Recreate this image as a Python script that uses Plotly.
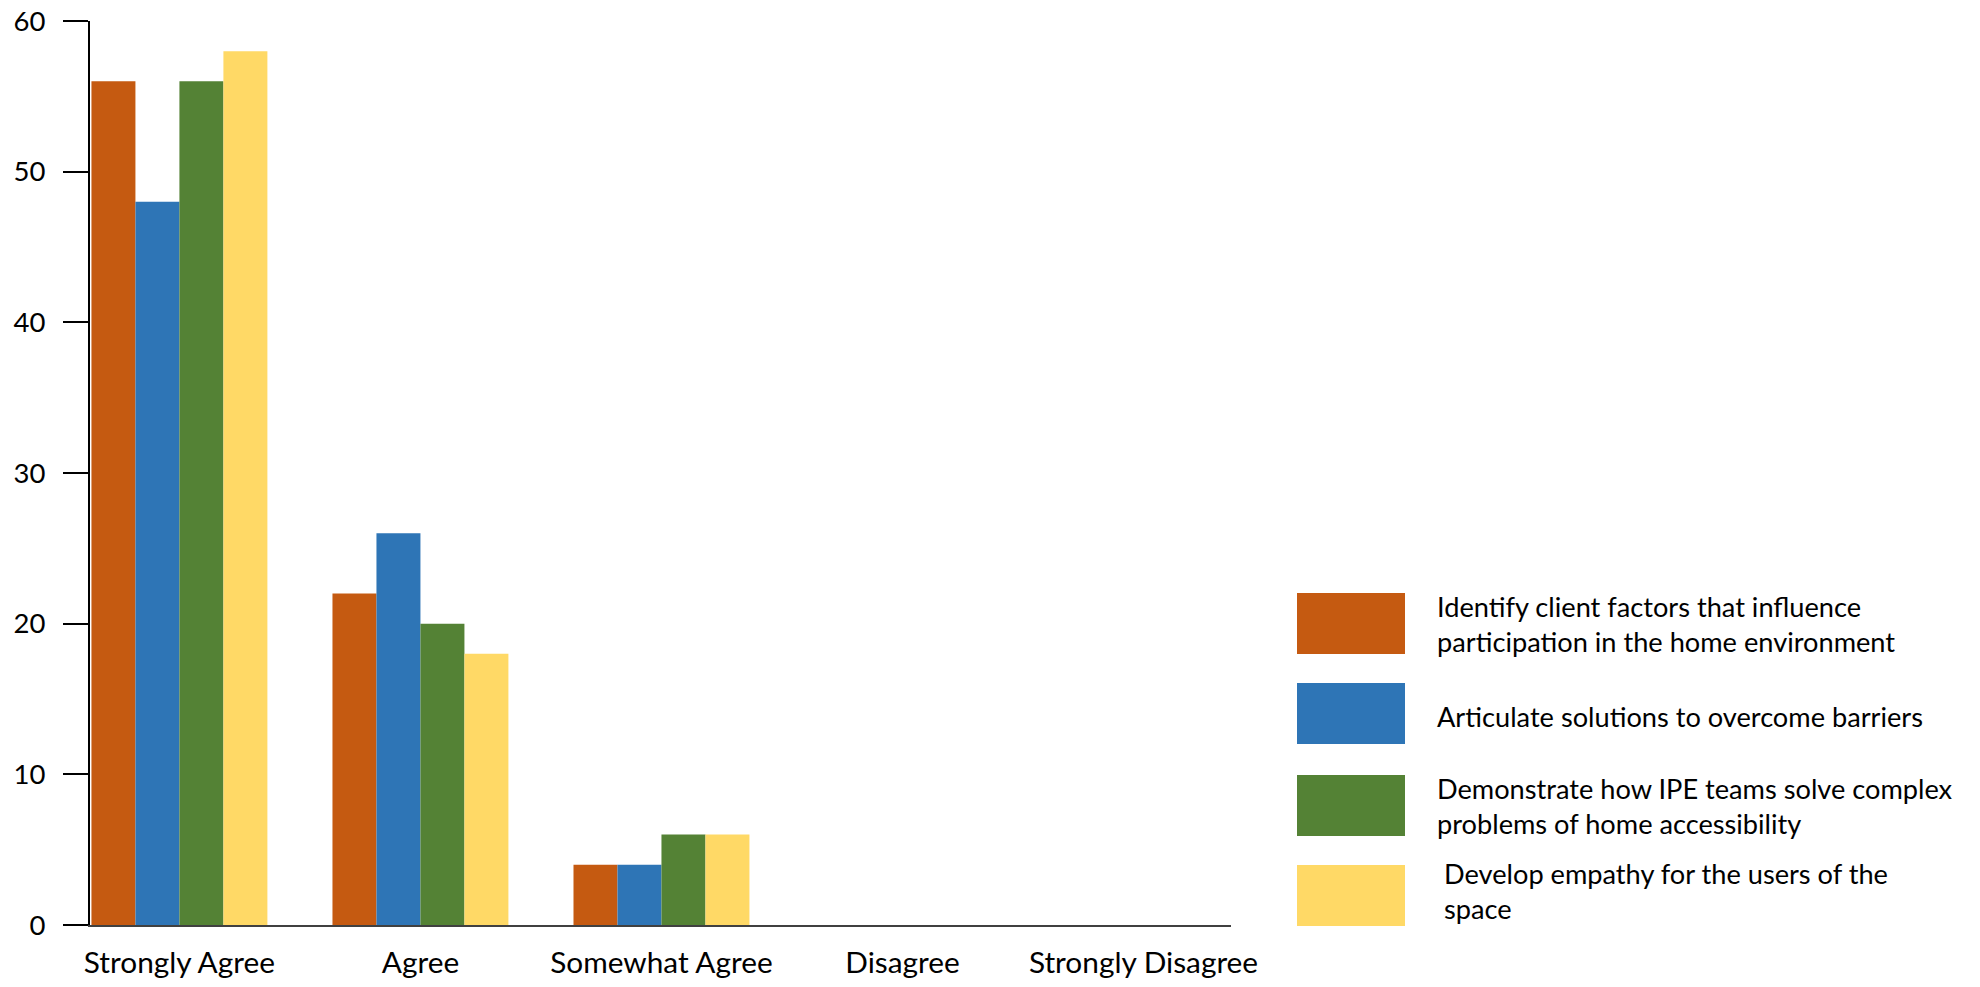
import textwrap
import plotly.graph_objects as go

categories = ["Strongly Agree", "Agree", "Somewhat Agree", "Disagree", "Strongly Disagree"]
series_names = [
    "Identify client factors that influence participation in the home environment",
    "Articulate solutions to overcome barriers",
    "Demonstrate how IPE teams solve complex problems of home accessibility",
    "Develop empathy for the users of the space",
]
identify_vals = [56, 22, 4, 0, 0]
articulate_vals = [48, 26, 4, 0, 0]
demonstrate_vals = [56, 20, 6, 0, 0]
empathy_vals = [58, 18, 6, 0, 0]
y_ticks = [0, 10, 20, 30, 40, 50, 60]

colors = ["#C55A11", "#2E75B6", "#548235", "#FFD966"]
series_vals = [identify_vals, articulate_vals, demonstrate_vals, empathy_vals]

W, H = 1980, 987
PX0, PX1, PY0, PY1 = 90, 1231, 20.7, 925  # plot area in pixels
FONT = "Lato"
FS_LEG = 27.2
FS_X = 29.8
FS_Y = 27.5

fig = go.Figure()
for name, vals, col in zip(series_names, series_vals, colors):
    fig.add_trace(go.Bar(x=categories, y=vals, name=name, marker=dict(color=col, line=dict(width=0))))


def px2paper_x(px):
    return (px - PX0) / (PX1 - PX0)


def px2paper_y(py):
    return (PY1 - py) / (PY1 - PY0)


shapes = []
annotations = []
box_tops = [593, 683, 775, 865]
text_dy = [0, 3, 0, -5]
text_dx = [0, 0, 0, 7]
for i, (name, col) in enumerate(zip(series_names, colors)):
    top = box_tops[i]
    shapes.append(dict(type="rect", xref="paper", yref="paper",
                       x0=px2paper_x(1297), x1=px2paper_x(1405),
                       y0=px2paper_y(top + 61), y1=px2paper_y(top),
                       fillcolor=col, line=dict(width=0)))
    annotations.append(dict(xref="paper", yref="paper",
                            x=px2paper_x(1435 + text_dx[i]), y=px2paper_y(top + 30.5 + text_dy[i]),
                            xanchor="left", yanchor="middle", align="left", showarrow=False,
                            text="<br>".join(textwrap.wrap(name, 41)),
                            font=dict(family=FONT, size=FS_LEG, color="#000000")))

fig.update_layout(
    width=W, height=H, autosize=False,
    margin=dict(l=PX0, r=W - PX1, t=PY0, b=H - PY1, pad=0),
    barmode="group", bargap=0.27, bargroupgap=0,
    showlegend=False,
    plot_bgcolor="white", paper_bgcolor="white",
    font=dict(family=FONT, size=FS_Y, color="#000000"),
    shapes=shapes, annotations=annotations,
)
fig.update_xaxes(
    range=[-0.371, 4.363], showgrid=False, zeroline=False,
    showline=True, linecolor="#404040", linewidth=1.5,
    ticks="", tickfont=dict(family=FONT, size=FS_X, color="#000000"),
    ticklabelstandoff=10, automargin=False,
)
fig.update_yaxes(
    range=[0, 60], tickvals=y_ticks, showgrid=False, zeroline=False,
    showline=True, linecolor="#000000", linewidth=2,
    ticks="outside", ticklen=25, tickwidth=2, tickcolor="#000000",
    tickfont=dict(family=FONT, size=FS_Y, color="#000000"),
    ticklabelstandoff=12, automargin=False,
)

fig.write_html(
    "out.html",
    config={"displayModeBar": False},
    post_script="document.body.style.margin='0';document.body.style.overflow='hidden';",
)
